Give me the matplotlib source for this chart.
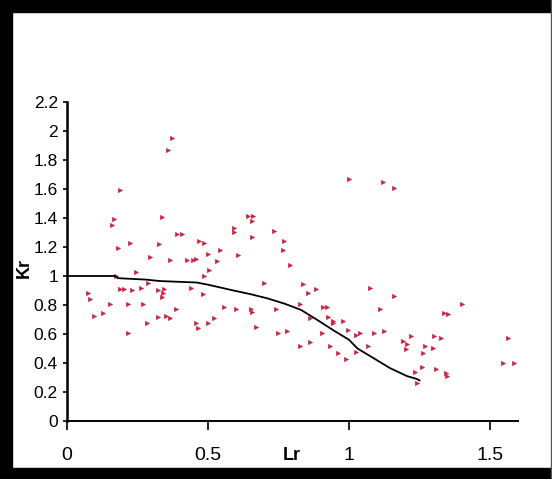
import numpy as np
import matplotlib.pyplot as plt
from matplotlib.patches import Rectangle

plt.rcParams['font.family'] = ['Liberation Sans', 'DejaVu Sans']

# measured points (Lr, Kr)
lr = [0.373, 0.359, 0.189, 0.167, 0.161, 0.336, 0.181, 0.223, 0.325, 0.391,
      0.407, 0.469, 0.486, 0.293, 0.365, 0.424, 0.446, 0.457, 0.500, 0.505,
      0.173, 0.245, 0.486, 0.073, 0.082, 0.188, 0.202, 0.229, 0.261, 0.286,
      0.323, 0.344, 0.339, 0.337, 0.439, 0.481, 0.152, 0.216, 0.268, 0.127,
      0.096, 0.385, 0.283, 0.323, 0.351, 0.365, 0.457, 0.466, 0.217, 1.000,
      1.122, 1.160, 0.641, 0.661, 0.657, 0.592, 0.592, 0.734, 0.655, 0.770,
      0.543, 0.765, 0.607, 0.531, 0.791, 0.699, 0.836, 0.883, 0.856, 0.826,
      0.909, 0.921, 0.557, 0.599, 0.651, 0.655, 0.741, 0.862, 0.927, 0.944,
      0.942, 0.980, 0.521, 0.501, 0.670, 0.749, 0.779, 0.905, 0.826, 0.862,
      0.933, 1.074, 1.161, 1.110, 1.400, 1.337, 1.352, 0.998, 1.025, 1.039,
      1.089, 1.124, 0.989, 1.025, 1.068, 1.190, 1.219, 1.207, 1.202, 1.270,
      1.263, 1.297, 1.301, 1.326, 1.234, 1.242, 1.258, 1.309, 1.344, 1.349,
      1.565, 1.545, 1.585, 0.960]
kr = [1.95, 1.87, 1.59, 1.39, 1.35, 1.41, 1.19, 1.23, 1.22, 1.29,
      1.29, 1.24, 1.23, 1.13, 1.11, 1.11, 1.11, 1.12, 1.15, 1.04,
      1.00, 1.03, 1.00, 0.885, 0.84, 0.91, 0.91, 0.90, 0.915, 0.95,
      0.90, 0.91, 0.88, 0.857, 0.915, 0.874, 0.807, 0.807, 0.805, 0.747,
      0.724, 0.774, 0.678, 0.715, 0.724, 0.708, 0.674, 0.639, 0.609, 1.67,
      1.65, 1.61, 1.416, 1.416, 1.38, 1.33, 1.30, 1.31, 1.27, 1.24,
      1.18, 1.18, 1.145, 1.105, 1.076, 0.954, 0.945, 0.908, 0.88, 0.807,
      0.784, 0.784, 0.784, 0.77, 0.77, 0.754, 0.77, 0.708, 0.715, 0.692,
      0.678, 0.692, 0.708, 0.678, 0.646, 0.609, 0.623, 0.609, 0.519, 0.547,
      0.519, 0.919, 0.862, 0.77, 0.807, 0.747, 0.738, 0.628, 0.593, 0.609,
      0.605, 0.623, 0.426, 0.478, 0.519, 0.554, 0.586, 0.531, 0.494, 0.517,
      0.467, 0.501, 0.586, 0.57, 0.34, 0.264, 0.374, 0.357, 0.333, 0.31,
      0.57, 0.402, 0.402, 0.467]

# assessment curve
lr_curve = [0, 0.17, 0.18, 0.28, 0.33, 0.46, 0.50, 0.59, 0.65, 0.71, 0.77,
            0.83, 0.885, 0.945, 1.0, 1.03, 1.09, 1.145, 1.205, 1.24, 1.25]
kr_curve = [1.0, 1.0, 0.985, 0.975, 0.965, 0.955, 0.94, 0.90, 0.875, 0.846, 0.81,
            0.766, 0.70, 0.625, 0.56, 0.50, 0.43, 0.365, 0.31, 0.29, 0.28]

xticks = [0, 0.5, 1, 1.5]
xlabels = ['0', '0.5', '1', '1.5']
yticks = [0, 0.2, 0.4, 0.6, 0.8, 1, 1.2, 1.4, 1.6, 1.8, 2, 2.2]
ylabels = ['0', '0.2', '0.4', '0.6', '0.8', '1', '1.2', '1.4', '1.6', '1.8', '2', '2.2']

fig = plt.figure(figsize=(5.52, 4.79), dpi=100)
ax = fig.add_axes([0.1214, 0.1211, 0.8174, 0.666])

ax.plot(lr, kr, linestyle='none', marker='>', markersize=3.2,
        color='#cc2240', markeredgewidth=0.3)
ax.plot(lr_curve, kr_curve, color='black', linewidth=1.3)

ax.set_xlim(0, 1.6)
ax.set_ylim(0, 2.2)
ax.set_xticks(xticks)
ax.set_xticklabels(xlabels, fontsize=14)
ax.set_yticks(yticks)
ax.set_yticklabels(ylabels, fontsize=12.5)
ax.tick_params(axis='x', direction='out', length=6.5, width=1.2, pad=12)
ax.tick_params(axis='y', direction='out', length=3, width=1.2, pad=3.5)

for s in ['top', 'right']:
    ax.spines[s].set_visible(False)
ax.spines['left'].set_linewidth(1.8)
ax.spines['bottom'].set_linewidth(1.4)

ax.set_ylabel('Kr', fontsize=13, fontweight='bold')
ax.yaxis.set_label_coords(-0.075, 0.48)
ax.set_xlabel('Lr', fontsize=13, fontweight='bold')
ax.xaxis.set_label_coords(0.497, -0.08)

# black frame round the chart
W, H = 552, 479
fig.patches.append(Rectangle((0, 1 - 12 / H), 1, 12 / H, transform=fig.transFigure,
                             color='black', zorder=10))
fig.patches.append(Rectangle((0, 0), 12 / W, 1, transform=fig.transFigure,
                             color='black', zorder=10))
fig.patches.append(Rectangle((0, 0), 1, 11 / H, transform=fig.transFigure,
                             color='black', zorder=10))
fig.patches.append(Rectangle((1 - 1.5 / W, 0), 1.5 / W, 1, transform=fig.transFigure,
                             color='#555555', zorder=10))

fig.savefig('out.png', dpi=100)
